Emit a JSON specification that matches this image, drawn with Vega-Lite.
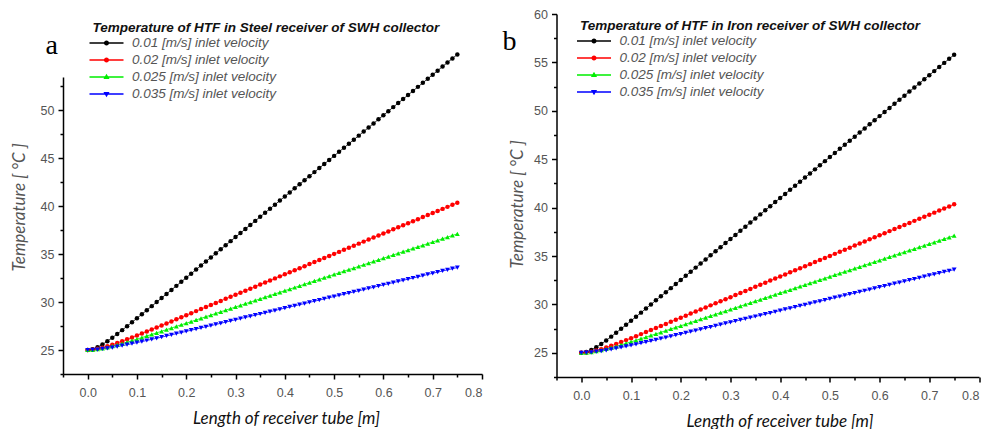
{
"$schema": "https://vega.github.io/schema/vega-lite/v6.json",
"autosize": "pad",
"padding": {"left": 10, "top": 8, "right": 0, "bottom": 0},
"bounds": "flush",
"spacing": 74.5,
"datasets": {"t": [
{"x":0.00,"a":25.00,"b":25.00,"c":25.00,"d":25.00},
{"x":0.01,"a":25.08,"b":25.03,"c":25.02,"d":25.01},
{"x":0.02,"a":25.29,"b":25.12,"c":25.08,"d":25.05},
{"x":0.03,"a":25.58,"b":25.24,"c":25.17,"d":25.11},
{"x":0.04,"a":25.91,"b":25.38,"c":25.27,"d":25.18},
{"x":0.05,"a":26.28,"b":25.55,"c":25.40,"d":25.26},
{"x":0.06,"a":26.67,"b":25.73,"c":25.53,"d":25.35},
{"x":0.07,"a":27.07,"b":25.91,"c":25.67,"d":25.45},
{"x":0.08,"a":27.48,"b":26.11,"c":25.82,"d":25.55},
{"x":0.09,"a":27.89,"b":26.31,"c":25.98,"d":25.66},
{"x":0.10,"a":28.31,"b":26.51,"c":26.13,"d":25.77},
{"x":0.11,"a":28.73,"b":26.72,"c":26.29,"d":25.88},
{"x":0.12,"a":29.15,"b":26.93,"c":26.46,"d":25.99},
{"x":0.13,"a":29.57,"b":27.14,"c":26.62,"d":26.11},
{"x":0.14,"a":29.99,"b":27.35,"c":26.79,"d":26.22},
{"x":0.15,"a":30.42,"b":27.56,"c":26.95,"d":26.34},
{"x":0.16,"a":30.84,"b":27.77,"c":27.12,"d":26.46},
{"x":0.17,"a":31.26,"b":27.98,"c":27.29,"d":26.58},
{"x":0.18,"a":31.68,"b":28.20,"c":27.46,"d":26.70},
{"x":0.19,"a":32.11,"b":28.41,"c":27.63,"d":26.82},
{"x":0.20,"a":32.53,"b":28.62,"c":27.79,"d":26.94},
{"x":0.21,"a":32.95,"b":28.83,"c":27.96,"d":27.06},
{"x":0.22,"a":33.38,"b":29.05,"c":28.13,"d":27.18},
{"x":0.23,"a":33.80,"b":29.26,"c":28.30,"d":27.30},
{"x":0.24,"a":34.22,"b":29.47,"c":28.47,"d":27.42},
{"x":0.25,"a":34.64,"b":29.69,"c":28.64,"d":27.54},
{"x":0.26,"a":35.07,"b":29.90,"c":28.81,"d":27.66},
{"x":0.27,"a":35.49,"b":30.11,"c":28.98,"d":27.78},
{"x":0.28,"a":35.91,"b":30.33,"c":29.15,"d":27.90},
{"x":0.29,"a":36.34,"b":30.54,"c":29.31,"d":28.03},
{"x":0.30,"a":36.76,"b":30.75,"c":29.48,"d":28.15},
{"x":0.31,"a":37.18,"b":30.96,"c":29.65,"d":28.27},
{"x":0.32,"a":37.61,"b":31.18,"c":29.82,"d":28.39},
{"x":0.33,"a":38.03,"b":31.39,"c":29.99,"d":28.51},
{"x":0.34,"a":38.45,"b":31.60,"c":30.16,"d":28.63},
{"x":0.35,"a":38.87,"b":31.82,"c":30.33,"d":28.75},
{"x":0.36,"a":39.30,"b":32.03,"c":30.50,"d":28.87},
{"x":0.37,"a":39.72,"b":32.24,"c":30.67,"d":28.99},
{"x":0.38,"a":40.14,"b":32.46,"c":30.84,"d":29.11},
{"x":0.39,"a":40.57,"b":32.67,"c":31.01,"d":29.24},
{"x":0.40,"a":40.99,"b":32.88,"c":31.18,"d":29.36},
{"x":0.41,"a":41.41,"b":33.09,"c":31.35,"d":29.48},
{"x":0.42,"a":41.84,"b":33.31,"c":31.51,"d":29.60},
{"x":0.43,"a":42.26,"b":33.52,"c":31.68,"d":29.72},
{"x":0.44,"a":42.68,"b":33.73,"c":31.85,"d":29.84},
{"x":0.45,"a":43.10,"b":33.95,"c":32.02,"d":29.96},
{"x":0.46,"a":43.53,"b":34.16,"c":32.19,"d":30.08},
{"x":0.47,"a":43.95,"b":34.37,"c":32.36,"d":30.20},
{"x":0.48,"a":44.37,"b":34.59,"c":32.53,"d":30.32},
{"x":0.49,"a":44.80,"b":34.80,"c":32.70,"d":30.45},
{"x":0.50,"a":45.22,"b":35.01,"c":32.87,"d":30.57},
{"x":0.51,"a":45.64,"b":35.22,"c":33.04,"d":30.69},
{"x":0.52,"a":46.07,"b":35.44,"c":33.21,"d":30.81},
{"x":0.53,"a":46.49,"b":35.65,"c":33.38,"d":30.93},
{"x":0.54,"a":46.91,"b":35.86,"c":33.54,"d":31.05},
{"x":0.55,"a":47.33,"b":36.08,"c":33.71,"d":31.17},
{"x":0.56,"a":47.76,"b":36.29,"c":33.88,"d":31.29},
{"x":0.57,"a":48.18,"b":36.50,"c":34.05,"d":31.41},
{"x":0.58,"a":48.60,"b":36.72,"c":34.22,"d":31.53},
{"x":0.59,"a":49.03,"b":36.93,"c":34.39,"d":31.66},
{"x":0.60,"a":49.45,"b":37.14,"c":34.56,"d":31.78},
{"x":0.61,"a":49.87,"b":37.35,"c":34.73,"d":31.90},
{"x":0.62,"a":50.30,"b":37.57,"c":34.90,"d":32.02},
{"x":0.63,"a":50.72,"b":37.78,"c":35.07,"d":32.14},
{"x":0.64,"a":51.14,"b":37.99,"c":35.24,"d":32.26},
{"x":0.65,"a":51.56,"b":38.21,"c":35.41,"d":32.38},
{"x":0.66,"a":51.99,"b":38.42,"c":35.58,"d":32.50},
{"x":0.67,"a":52.41,"b":38.63,"c":35.74,"d":32.62},
{"x":0.68,"a":52.83,"b":38.85,"c":35.91,"d":32.74},
{"x":0.69,"a":53.26,"b":39.06,"c":36.08,"d":32.87},
{"x":0.70,"a":53.68,"b":39.27,"c":36.25,"d":32.99},
{"x":0.71,"a":54.10,"b":39.48,"c":36.42,"d":33.11},
{"x":0.72,"a":54.53,"b":39.70,"c":36.59,"d":33.23},
{"x":0.73,"a":54.95,"b":39.91,"c":36.76,"d":33.35},
{"x":0.74,"a":55.37,"b":40.12,"c":36.93,"d":33.47},
{"x":0.75,"a":55.79,"b":40.34,"c":37.10,"d":33.59}
]},
"resolve": {"scale": {"color": "independent", "shape": "independent"}, "legend": {"color": "independent", "shape": "independent"}},
"hconcat": [
{
"width": 419, "height": 360,
"title": {"text": "a", "anchor": "start", "frame": "group", "font": "Liberation Serif", "fontSize": 28, "fontWeight": "normal", "color": "#000", "baseline": "alphabetic", "offset": 0, "dx": -17.5, "dy": 68},
"data": {"name": "t"},
"transform": [{"fold": ["a", "b", "c", "d"], "as": ["s", "T"]}],
"encoding": {
"x": {"field": "x", "type": "quantitative", "scale": {"domain": [-0.05, 0.8], "nice": false, "zero": false},
"axis": {"title": "Length of receiver tube [m]", "values": [-0.05,0,0.05,0.1,0.15,0.2,0.25,0.3,0.35,0.4,0.45,0.5,0.55,0.6,0.65,0.7,0.75,0.8],
"labelExpr": "datum.value >= 0 && abs(datum.value*10 - round(datum.value*10)) < 0.001 ? format(datum.value, '.1f') : ''",
"tickSize": {"condition": {"test": "abs(datum.value*10 - round(datum.value*10)) < 0.001", "value": 5}, "value": 3},
"labelPadding": 7,
"titleX": 223, "titleY": 44, "titleBaseline": "middle", "titleAlign": "center", "titleColor": "#111"}},
"y": {"field": "T", "type": "quantitative", "scale": {"domain": [22.5, 60], "nice": false, "zero": false},
"axis": {"title": "Temperature [ °C ]", "values": [22.5,25,27.5,30,32.5,35,37.5,40,42.5,45,47.5,50,52.5],
"labelExpr": "datum.value % 5 === 0 ? datum.label : ''",
"tickSize": {"condition": {"test": "datum.value % 5 === 0", "value": 5}, "value": 3},
"labelPadding": 4,
"domainDash": [297, 1000],
"titleX": -43.5, "titleY": 193, "titleBaseline": "middle", "titleAlign": "center", "titleAngle": -90}}
},
"layer": [
{"transform": [{"filter": "false"}],
 "mark": {"type": "point", "filled": true, "opacity": 1},
 "encoding": {
  "color": {"field": "s", "type": "nominal", "scale": {"domain": ["a","b","c","d"], "range": ["#000000","#ff0000","#00ee00","#0000ff"]}, "legend": {"title": "Temperature of HTF in Steel receiver of SWH collector", "orient": "none", "legendX": 29.5, "legendY": 7, "labelExpr": "{'a':'0.01 [m/s] inlet velocity','b':'0.02 [m/s] inlet velocity','c':'0.025 [m/s] inlet velocity','d':'0.035 [m/s] inlet velocity'}[datum.label]"}},
  "shape": {"field": "s", "type": "nominal", "scale": {"domain": ["a","b","c","d"], "range": ["M-2,-0.08H2V0.08H-2ZM0.3,0A0.3,0.3,0,1,1,-0.3,0A0.3,0.3,0,1,1,0.3,0Z","M-2,-0.08H2V0.08H-2ZM0.3,0A0.3,0.3,0,1,1,-0.3,0A0.3,0.3,0,1,1,0.3,0Z","M-2,-0.08H2V0.08H-2ZM0,-0.38L0.36,0.24L-0.36,0.24Z","M-2,-0.08H2V0.08H-2ZM0,0.38L-0.36,-0.24L0.36,-0.24Z"]}, "legend": {"title": "Temperature of HTF in Steel receiver of SWH collector", "orient": "none", "legendX": 29.5, "legendY": 7, "labelExpr": "{'a':'0.01 [m/s] inlet velocity','b':'0.02 [m/s] inlet velocity','c':'0.025 [m/s] inlet velocity','d':'0.035 [m/s] inlet velocity'}[datum.label]"}}
 }},
{"mark": {"type": "line", "strokeWidth": 0.8},
 "encoding": {"color": {"field": "s", "type": "nominal", "legend": null}}},
{"transform": [{"filter": "datum.s === 'a' || datum.s === 'b'"}],
 "mark": {"type": "point", "shape": "circle", "filled": true, "size": 20, "opacity": 1},
 "encoding": {"color": {"field": "s", "type": "nominal", "legend": null}}},
{"transform": [{"filter": "datum.s === 'c'"}],
 "mark": {"type": "point", "shape": "triangle-up", "filled": true, "size": 24, "opacity": 1},
 "encoding": {"color": {"field": "s", "type": "nominal", "legend": null}}},
{"transform": [{"filter": "datum.s === 'd'"}],
 "mark": {"type": "point", "shape": "triangle-down", "filled": true, "size": 24, "opacity": 1},
 "encoding": {"color": {"field": "s", "type": "nominal", "legend": null}}}
]
},
{
"width": 422.5, "height": 363,
"title": {"text": "b", "anchor": "start", "frame": "group", "font": "Liberation Serif", "fontSize": 28, "fontWeight": "normal", "color": "#000", "baseline": "alphabetic", "offset": 0, "dx": -54, "dy": 70},
"data": {"name": "t"},
"transform": [{"fold": ["a", "b", "c", "d"], "as": ["s", "T"]}],
"encoding": {
"x": {"field": "x", "type": "quantitative", "scale": {"domain": [-0.05, 0.8], "nice": false, "zero": false},
"axis": {"title": "Length of receiver tube [m]", "values": [-0.05,0,0.05,0.1,0.15,0.2,0.25,0.3,0.35,0.4,0.45,0.5,0.55,0.6,0.65,0.7,0.75,0.8],
"labelExpr": "datum.value >= 0 && abs(datum.value*10 - round(datum.value*10)) < 0.001 ? format(datum.value, '.1f') : ''",
"tickSize": {"condition": {"test": "abs(datum.value*10 - round(datum.value*10)) < 0.001", "value": 5}, "value": 3},
"labelPadding": 7,
"titleX": 223, "titleY": 44, "titleBaseline": "middle", "titleAlign": "center", "titleColor": "#111"}},
"y": {"field": "T", "type": "quantitative", "scale": {"domain": [22.5, 60], "nice": false, "zero": false},
"axis": {"title": "Temperature [ °C ]", "values": [22.5,25,27.5,30,32.5,35,37.5,40,42.5,45,47.5,50,52.5,55,57.5,60],
"labelExpr": "datum.value % 5 === 0 ? datum.label : ''",
"tickSize": {"condition": {"test": "datum.value % 5 === 0", "value": 5}, "value": 3},
"labelPadding": 4,
"titleX": -39, "titleY": 190, "titleBaseline": "middle", "titleAlign": "center", "titleAngle": -90}}
},
"layer": [
{"transform": [{"filter": "false"}],
 "mark": {"type": "point", "filled": true, "opacity": 1},
 "encoding": {
  "color": {"field": "s", "type": "nominal", "scale": {"domain": ["a","b","c","d"], "range": ["#000000","#ff0000","#00ee00","#0000ff"]}, "legend": {"title": "Temperature of HTF in Iron receiver of SWH collector", "orient": "none", "legendX": 23.5, "legendY": 5, "labelExpr": "{'a':'0.01 [m/s] inlet velocity','b':'0.02 [m/s] inlet velocity','c':'0.025 [m/s] inlet velocity','d':'0.035 [m/s] inlet velocity'}[datum.label]"}},
  "shape": {"field": "s", "type": "nominal", "scale": {"domain": ["a","b","c","d"], "range": ["M-2,-0.08H2V0.08H-2ZM0.3,0A0.3,0.3,0,1,1,-0.3,0A0.3,0.3,0,1,1,0.3,0Z","M-2,-0.08H2V0.08H-2ZM0.3,0A0.3,0.3,0,1,1,-0.3,0A0.3,0.3,0,1,1,0.3,0Z","M-2,-0.08H2V0.08H-2ZM0,-0.38L0.36,0.24L-0.36,0.24Z","M-2,-0.08H2V0.08H-2ZM0,0.38L-0.36,-0.24L0.36,-0.24Z"]}, "legend": {"title": "Temperature of HTF in Iron receiver of SWH collector", "orient": "none", "legendX": 23.5, "legendY": 5, "labelExpr": "{'a':'0.01 [m/s] inlet velocity','b':'0.02 [m/s] inlet velocity','c':'0.025 [m/s] inlet velocity','d':'0.035 [m/s] inlet velocity'}[datum.label]"}}
 }},
{"mark": {"type": "line", "strokeWidth": 0.8},
 "encoding": {"color": {"field": "s", "type": "nominal", "legend": null}}},
{"transform": [{"filter": "datum.s === 'a' || datum.s === 'b'"}],
 "mark": {"type": "point", "shape": "circle", "filled": true, "size": 20, "opacity": 1},
 "encoding": {"color": {"field": "s", "type": "nominal", "legend": null}}},
{"transform": [{"filter": "datum.s === 'c'"}],
 "mark": {"type": "point", "shape": "triangle-up", "filled": true, "size": 24, "opacity": 1},
 "encoding": {"color": {"field": "s", "type": "nominal", "legend": null}}},
{"transform": [{"filter": "datum.s === 'd'"}],
 "mark": {"type": "point", "shape": "triangle-down", "filled": true, "size": 24, "opacity": 1},
 "encoding": {"color": {"field": "s", "type": "nominal", "legend": null}}}
]
}
],
"config": {
"view": {"stroke": null},
"font": "Liberation Sans",
"axis": {"grid": false, "domainColor": "#000", "domainWidth": 1.5, "tickColor": "#000", "tickWidth": 1.5, "labelFont": "Liberation Sans", "labelFontSize": 12.5, "labelColor": "#555", "titleFont": "Lato", "titleFontStyle": "italic", "titleFontSize": 17, "titleFontWeight": "normal", "titleColor": "#555"},
"legend": {"symbolSize": 289, "symbolStrokeWidth": 0, "symbolOffset": 5.5, "labelOffset": 17, "rowPadding": 2, "padding": 0, "titlePadding": 0, "titleFont": "Liberation Sans", "titleFontSize": 13.5, "titleFontStyle": "italic", "titleFontWeight": "bold", "titleColor": "#111", "titleLimit": 600, "labelFont": "Liberation Sans", "labelFontSize": 13.5, "labelFontStyle": "italic", "labelColor": "#555", "labelLimit": 300, "symbolOpacity": 1}
}
}
